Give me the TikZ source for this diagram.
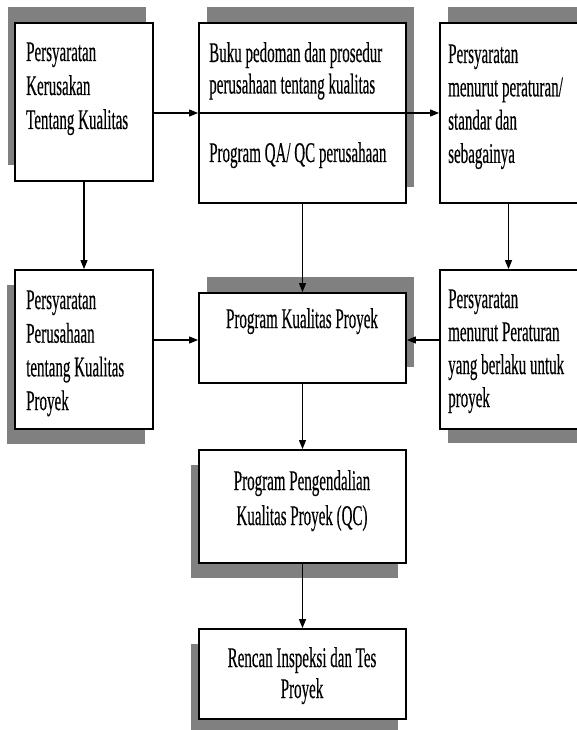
\documentclass[tikz,border=0pt]{standalone}
\usepackage{fontspec}
\setmainfont{Liberation Serif}[FakeBold=0.5]
\usepackage{graphicx}
\usetikzlibrary{arrows.meta,shadows}

\definecolor{shadowgray}{HTML}{808080}

% narrow, tall serif lines: #1 column alignment, #2 line distance, #3 lines
\newcommand\boxlines[3]{\scalebox{0.527}[1]{\fontsize{28.5}{#2}\selectfont
  \begin{tabular}[t]{@{}#1@{}}#3\end{tabular}}}

\tikzset{
  box/.style={draw=black, line width=1.8pt, fill=white, inner sep=0pt},
  shNW/.style={general shadow={fill=shadowgray, shadow xshift=-7.5pt, shadow yshift=16pt}},
  shNE/.style={general shadow={fill=shadowgray, shadow xshift=7.5pt, shadow yshift=16pt}},
  shSW/.style={general shadow={fill=shadowgray, shadow xshift=-8pt, shadow yshift=-15pt}},
  shSE/.style={general shadow={fill=shadowgray, shadow xshift=8pt, shadow yshift=-14pt}},
  lbl/.style={inner sep=0pt, anchor=base west},
  lblc/.style={inner sep=0pt, anchor=base},
  flow/.style={line width=1.1pt, -{Triangle[length=9pt,width=7pt]}},
  divider/.style={line width=1.1pt},
}

\begin{document}
\begin{tikzpicture}[x=1pt, y=-1pt]
\useasboundingbox (0,0) rectangle (577,730);
\clip (0,0) rectangle (577,730);

% boxes with their shadows
\node[box, shNW, minimum width=138pt, minimum height=158pt] (b1) at (84,102) {};
\node[box, shNE, minimum width=207pt, minimum height=180pt] (b2) at (302.5,113) {};
\node[box, shNE, minimum width=140pt, minimum height=180pt] (b3) at (510,113) {};
\node[box, shSW, minimum width=138pt, minimum height=159pt] (b4) at (84,349.5) {};
\node[box, shNE, minimum width=207pt, minimum height=90pt] (b5) at (302.5,338) {};
\node[box, shSE, minimum width=140pt, minimum height=159pt] (b6) at (510,349.5) {};
\node[box, shSW, minimum width=207pt, minimum height=113pt] (b7) at (302.5,506.5) {};
\node[box, shSW, minimum width=207pt, minimum height=90pt] (b8) at (302.5,674) {};

% texts
\node[lbl] (t1) at (26,61) {\boxlines{l}{34}{Persyaratan\\Kerusakan\\Tentang Kualitas}};
\node[lbl] (t2a) at (209,62) {\boxlines{l}{31.5}{Buku pedoman dan prosedur\\perusahaan tentang kualitas}};
\node[lbl] (t2b) at (209,162) {\boxlines{l}{33}{Program QA/ QC perusahaan}};
\node[lbl] (t3) at (448,63) {\boxlines{l}{33.3}{Persyaratan\\menurut peraturan/\\standar dan\\sebagainya}};
\node[lbl] (t4) at (26,309) {\boxlines{l}{33.7}{Persyaratan\\Perusahaan\\tentang Kualitas\\Proyek}};
\node[lblc] (t5) at (302,328) {\boxlines{c}{33}{Program Kualitas Proyek}};
\node[lbl] (t6) at (448,308) {\boxlines{l}{33}{Persyaratan\\menurut Peraturan\\yang berlaku untuk\\proyek}};
\node[lblc] (t7) at (302,490) {\boxlines{c}{35}{Program Pengendalian\\Kualitas Proyek (QC)}};
\node[lblc] (t8) at (302,667) {\boxlines{c}{31}{Rencan Inspeksi dan Tes\\Proyek}};

% divider inside the handbook box
\draw[divider] (b2.west) -- (b2.east);

% connectors
\draw[flow] (b1.east |- b2.center) -- (b2.west);
\draw[flow] (b2.east) -- (b3.west);
\draw[flow] (b1.south) -- (b4.north);
\draw[flow] (b2.south) -- (b5.north);
\draw[flow] ([xshift=-1.5pt]b3.south) -- ([xshift=-1.5pt]b6.north);
\draw[flow] (b4.east |- 0,340) -- (b5.west |- 0,340);
\draw[flow] (b6.west |- 0,340) -- (b5.east |- 0,340);
\draw[flow] (b5.south) -- (b7.north);
\draw[flow] (b7.south) -- (b8.north);
\end{tikzpicture}
\end{document}
